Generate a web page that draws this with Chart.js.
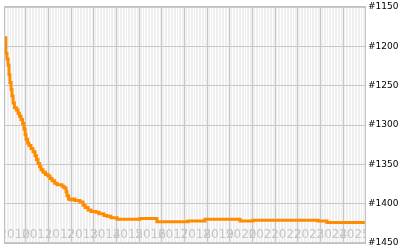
<!DOCTYPE html>
<html>
<head>
<meta charset="utf-8">
<script src="https://cdn.jsdelivr.net/npm/chart.js@4/dist/chart.umd.min.js"></script>
<style>
  html, body { margin: 0; padding: 0; background: #fff; }
  #wrap { width: 400px; height: 250px; }
</style>
</head>
<body>
<div id="wrap"><canvas id="rank"></canvas></div>
<script>
// fechas de cambio (año decimal) y puesto alcanzado
const changeYears = [
  2010.07, 2010.11, 2010.16, 2010.21, 2010.25, 2010.29, 2010.34, 2010.38, 2010.43, 2010.49,
  2010.58, 2010.65, 2010.71, 2010.78, 2010.85, 2010.91, 2010.96, 2011.00, 2011.07, 2011.13,
  2011.22, 2011.31, 2011.40, 2011.46, 2011.53, 2011.60, 2011.66, 2011.75, 2011.86, 2011.97,
  2012.06, 2012.15, 2012.26, 2012.37, 2012.59, 2012.68, 2012.77, 2012.81, 2012.88, 2012.94,
  2013.03, 2013.16, 2013.38, 2013.52, 2013.61, 2013.74, 2013.87, 2014.09, 2014.22, 2014.44,
  2014.58, 2014.75, 2015.02, 2016.03, 2016.78, 2018.15, 2018.90, 2020.45, 2021.02, 2023.89,
  2024.29, 2025.96
];
const ranks = [
  1189, 1209, 1216, 1224, 1236, 1246, 1255, 1263, 1272, 1278,
  1281, 1285, 1289, 1293, 1298, 1305, 1312, 1318, 1323, 1326,
  1330, 1334, 1339, 1344, 1349, 1353, 1357, 1360, 1363, 1365,
  1368, 1371, 1374, 1376, 1378, 1380, 1385, 1390, 1394, 1395,
  1394, 1396, 1398, 1402, 1405, 1408, 1410, 1411, 1413, 1415,
  1416, 1418, 1420, 1419, 1423, 1422, 1420, 1422, 1421, 1422,
  1424, 1424
];
const yearLabels = ['2010', '2011', '2012', '2013', '2014', '2015', '2016', '2017',
  '2018', '2019', '2020', '2021', '2022', '2023', '2024', '2025'];
const rankTicks = [1150, 1200, 1250, 1300, 1350, 1400, 1450];

const xMin = 2010.073;
const xMax = 2025.967;

// fondo gris, marco y etiquetas de año dentro del área
const plotDecor = {
  id: 'plotDecor',
  beforeDraw(chart) {
    const a = chart.chartArea;
    const ctx = chart.ctx;
    ctx.save();
    ctx.fillStyle = '#efefef';
    ctx.fillRect(a.left, a.top, a.right - a.left, a.bottom - a.top);
    ctx.restore();
  },
  beforeDatasetsDraw(chart) {
    const a = chart.chartArea;
    const ctx = chart.ctx;
    const xs = chart.scales.x;
    ctx.save();
    ctx.beginPath();
    ctx.rect(a.left, a.top, a.right - a.left, a.bottom - a.top);
    ctx.clip();
    ctx.font = '12px "DejaVu Sans"';
    ctx.fillStyle = '#c4c4c4';
    ctx.textAlign = 'center';
    ctx.textBaseline = 'alphabetic';
    yearLabels.forEach(lbl => {
      const px = xs.getPixelForValue(parseInt(lbl, 10) + 0.5);
      ctx.fillText(lbl, px, a.bottom - 5);
    });
    ctx.restore();
    ctx.save();
    ctx.strokeStyle = '#c0c0c0';
    ctx.lineWidth = 1;
    ctx.strokeRect(Math.round(a.left) - 0.5, Math.round(a.top) - 0.5,
      Math.round(a.right - a.left) + 1, Math.round(a.bottom - a.top) + 1);
    ctx.restore();
  }
};

new Chart(document.getElementById('rank'), {
  type: 'line',
  data: {
    datasets: [{
      data: changeYears.map((yr, i) => ({ x: yr, y: ranks[i] })),
      borderColor: '#ff8c00',
      borderWidth: 3,
      pointRadius: 0,
      stepped: true,
      fill: false
    }]
  },
  options: {
    responsive: true,
    maintainAspectRatio: false,
    animation: false,
    events: [],
    layout: { padding: { left: 5, top: 5, bottom: 5, right: 0 } },
    plugins: { legend: { display: false }, tooltip: { enabled: false } },
    scales: {
      xMinor: {
        type: 'linear', position: 'bottom', min: xMin, max: xMax, z: -2,
        grid: { color: '#ffffff', lineWidth: 1, drawTicks: false },
        border: { display: false },
        ticks: { display: false, stepSize: 0.125, includeBounds: false }
      },
      x: {
        type: 'linear', position: 'bottom', min: xMin, max: xMax, z: -1,
        grid: { color: '#c8c8c8', lineWidth: 1, drawTicks: false },
        border: { display: false },
        ticks: { display: false, stepSize: 1, includeBounds: false }
      },
      y: {
        position: 'right', reverse: true, min: rankTicks[0], max: rankTicks[rankTicks.length - 1], z: -1,
        afterFit(scale) { scale.width = 35; },
        grid: { color: '#c8c8c8', lineWidth: 1, drawTicks: false },
        border: { display: false },
        ticks: {
          stepSize: 50, padding: 3, color: '#000',
          font: { family: 'DejaVu Sans', size: 9, lineHeight: 0.9 },
          callback: v => '#' + v
        }
      }
    }
  },
  plugins: [plotDecor]
});
</script>
</body>
</html>
